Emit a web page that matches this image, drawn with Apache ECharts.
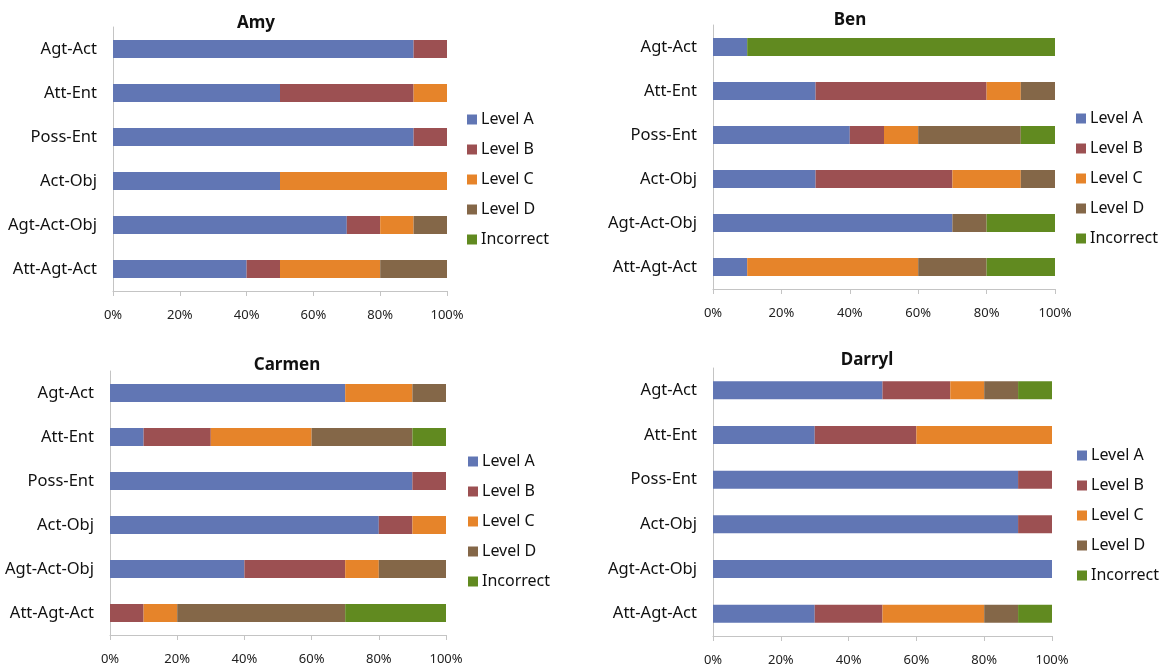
<!DOCTYPE html>
<html>
<head>
<meta charset="utf-8">
<script src="https://cdn.jsdelivr.net/npm/echarts@6/dist/echarts.min.js"></script>
<style>
  html, body { margin: 0; padding: 0; background: #ffffff; }
  #chart { width: 1165px; height: 671px; }
</style>
</head>
<body>
<div id="chart"></div>
<script>
// Phrase types, listed top to bottom
const categories = ['Agt-Act', 'Att-Ent', 'Poss-Ent', 'Act-Obj', 'Agt-Act-Obj', 'Att-Agt-Act'];
const levels = ['Level A', 'Level B', 'Level C', 'Level D', 'Incorrect'];
const tickLabels = ['0%', '20%', '40%', '60%', '80%', '100%'];

// Percent of responses at each level, per phrase type
const amyA = [90, 50, 90, 50, 70, 40];
const amyB = [10, 40, 10, 0, 10, 10];
const amyC = [0, 10, 0, 50, 10, 30];
const amyD = [0, 0, 0, 0, 10, 20];
const amyI = [0, 0, 0, 0, 0, 0];

const benA = [10, 30, 40, 30, 70, 10];
const benB = [0, 50, 10, 40, 0, 0];
const benC = [0, 10, 10, 20, 0, 50];
const benD = [0, 10, 30, 10, 10, 20];
const benI = [90, 0, 10, 0, 20, 20];

const carmenA = [70, 10, 90, 80, 40, 0];
const carmenB = [0, 20, 10, 10, 30, 10];
const carmenC = [20, 30, 0, 10, 10, 10];
const carmenD = [10, 30, 0, 0, 20, 50];
const carmenI = [0, 10, 0, 0, 0, 30];

const darrylA = [50, 30, 90, 90, 100, 30];
const darrylB = [20, 30, 10, 10, 0, 20];
const darrylC = [10, 40, 0, 0, 0, 30];
const darrylD = [10, 0, 0, 0, 0, 10];
const darrylI = [10, 0, 0, 0, 0, 10];

const colors = ['#6176b4', '#9c5052', '#e6842a', '#846748', '#618a20'];
const FONT = "'Noto Sans', sans-serif";

const panels = [
  { name: 'Amy',    data: [amyA, amyB, amyC, amyD, amyI],
    grid: { left: 113, top: 27, width: 334, height: 264 },
    title: { x: 251, y: 10 }, legend: { x: 462, y: 106 } },
  { name: 'Ben',    data: [benA, benB, benC, benD, benI],
    grid: { left: 713, top: 25, width: 342, height: 264 },
    title: { x: 845, y: 7 }, legend: { x: 1071, y: 105 } },
  { name: 'Carmen', data: [carmenA, carmenB, carmenC, carmenD, carmenI],
    grid: { left: 110, top: 371, width: 336, height: 264 },
    title: { x: 282, y: 352 }, legend: { x: 463, y: 448 } },
  { name: 'Darryl', data: [darrylA, darrylB, darrylC, darrylD, darrylI],
    grid: { left: 713, top: 368, width: 339, height: 268 },
    title: { x: 862, y: 347 }, legend: { x: 1072, y: 442 } }
];

const option = {
  animation: false,
  color: colors,
  textStyle: { fontFamily: FONT },
  title: [], grid: [], xAxis: [], yAxis: [], legend: [], series: []
};

panels.forEach((p, i) => {
  option.title.push({
    text: p.name, left: p.title.x, top: p.title.y, textAlign: 'center',
    textStyle: { fontFamily: FONT, fontSize: 17, fontWeight: 'bold', color: '#111' }
  });
  option.grid.push(Object.assign({ containLabel: false }, p.grid));
  option.xAxis.push({
    type: 'value', gridIndex: i, min: 0, max: 100, interval: 20,
    axisLine: { show: true, lineStyle: { color: '#c4c4c4', width: 1 } },
    axisTick: { show: true, length: 5, lineStyle: { color: '#c4c4c4' } },
    splitLine: { show: false },
    axisLabel: {
      margin: 18, fontSize: 13, color: '#222', fontFamily: FONT,
      formatter: v => tickLabels[Math.round(v / 20)]
    }
  });
  option.yAxis.push({
    type: 'category', gridIndex: i, data: categories, inverse: true,
    axisLine: { show: true, lineStyle: { color: '#c4c4c4', width: 1 } },
    axisTick: { show: false },
    axisLabel: { margin: 16, fontSize: 16.5, color: '#111', fontFamily: FONT }
  });
  option.legend.push({
    orient: 'vertical', left: p.legend.x, top: p.legend.y,
    itemWidth: 10, itemHeight: 10, itemGap: 13, icon: 'rect',
    data: levels,
    textStyle: { fontSize: 16, lineHeight: 17, color: '#111', fontFamily: FONT, padding: [0, 0, 0, -1] }
  });
  levels.forEach((lv, k) => {
    option.series.push({
      type: 'bar', name: lv, xAxisIndex: i, yAxisIndex: i,
      stack: 'panel' + i, barWidth: 18,
      itemStyle: { color: colors[k] },
      emphasis: { disabled: true },
      data: p.data[k]
    });
  });
});

const chart = echarts.init(document.getElementById('chart'), null, { renderer: 'canvas' });
chart.setOption(option);
</script>
</body>
</html>
